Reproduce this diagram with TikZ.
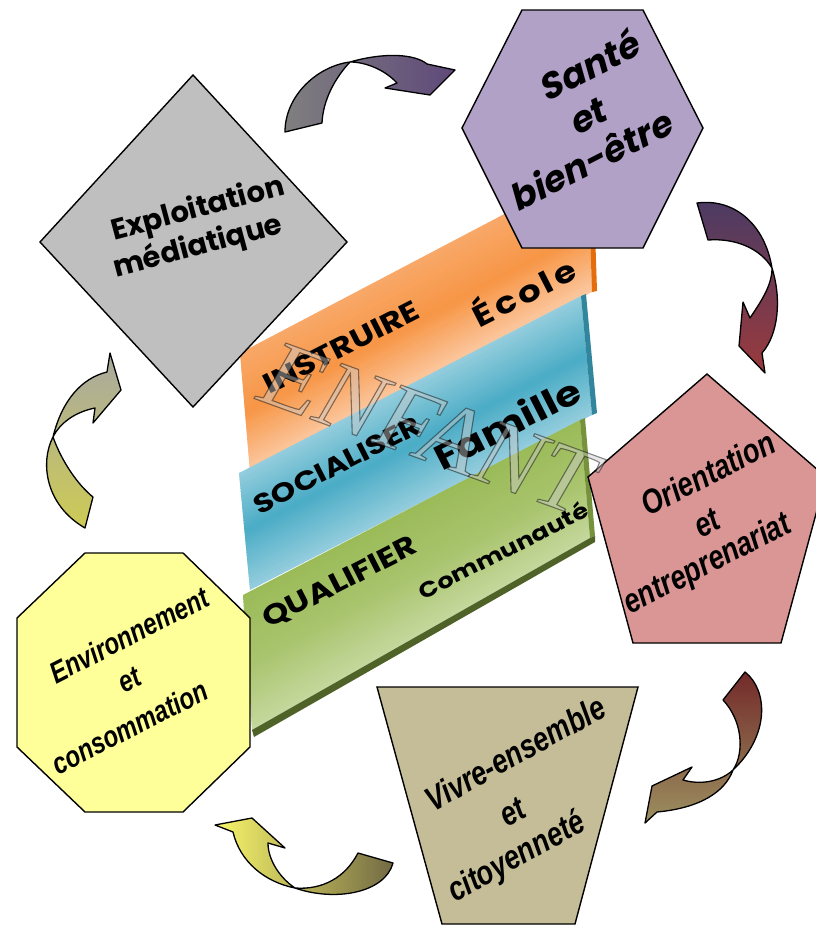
\documentclass[tikz,border=0pt]{standalone}
\usepackage{fontspec}
\usetikzlibrary{calc}
\newfontfamily\geofont{Poppins}
\newfontfamily\slantgeofont[FakeSlant=0.2]{Poppins}
\newfontfamily\widefont[FakeStretch=1.2]{Poppins}
\IfFontExistsTF{Liberation Sans Bold Italic}
    {\newfontfamily\narrowfont[FakeStretch=0.8]{Liberation Sans Bold Italic}}
    {\newfontfamily\narrowfont[FakeStretch=0.78, FakeSlant=0.2, FakeBold=4]{Liberation Sans}}
\newfontfamily\outlinefont{Liberation Serif}

\definecolor{diamondgray}{HTML}{BFBFBF}
\definecolor{hexlilac}{HTML}{B2A1C7}
\definecolor{pentarose}{HTML}{D99694}
\definecolor{trapsand}{HTML}{C4BD97}
\definecolor{octayellow}{HTML}{FFFF99}
\definecolor{orangeA}{HTML}{F8A868}
\definecolor{orangeB}{HTML}{F79646}
\definecolor{orangeC}{HTML}{FBC8A0}
\definecolor{orangeD}{HTML}{E46C0A}
\definecolor{blueA}{HTML}{93CDDD}
\definecolor{blueB}{HTML}{4BACC6}
\definecolor{blueD}{HTML}{31859C}
\definecolor{greenA}{HTML}{9BBB59}
\definecolor{greenB}{HTML}{A8C46C}
\definecolor{greenC}{HTML}{C4D79C}
\definecolor{greenD}{HTML}{76923C}
\definecolor{greenE}{HTML}{4F6228}
\definecolor{arrowgray}{HTML}{7F7F7F}
\definecolor{arrowpurple}{HTML}{5F497A}
\definecolor{arrowplum}{HTML}{4B3B64}
\definecolor{arrowred}{HTML}{9A3A3C}
\definecolor{arrowmaroon}{HTML}{732A2A}
\definecolor{arrowolive}{HTML}{9C9060}
\definecolor{arrowdark}{HTML}{736A44}
\definecolor{arrowyellow}{HTML}{F8F66A}
\definecolor{arrowlime}{HTML}{CDCB55}
\definecolor{arrowsilver}{HTML}{A9A9A0}

% bande en degrade : coins tl, tr, br, bl puis couleurs haut, milieu, bas
\newcommand{\bande}[7]{
    \foreach \i in {0,...,39}{
        \pgfmathsetmacro{\ta}{\i/40}
        \pgfmathsetmacro{\tb}{min(1,(\i+1.5)/40)}
        \pgfmathtruncatemacro{\p}{abs(\i-19.5)/19.5*100}
        \ifnum\i<20 \def\bout{#5}\else\def\bout{#7}\fi
        \path[fill=\bout!\p!#6] ($(#1)!\ta!(#4)$) -- ($(#2)!\ta!(#3)$) -- ($(#2)!\tb!(#3)$) -- ($(#1)!\tb!(#4)$) -- cycle;
    }
}

\begin{document}
\begin{tikzpicture}[x=1pt, y=-1pt,
        bloc/.style={draw=black, line width=1.4pt},
        fleche/.style={draw=black, line width=1.3pt, line join=round},
        cadretxt/.style={font=\geofont\bfseries\fontsize{29}{29}\selectfont, rotate=15, inner sep=0pt},
        santetxt/.style={font=\slantgeofont\bfseries\fontsize{36}{36}\selectfont, rotate=27, inner sep=0pt},
        etroittxt/.style={font=\narrowfont\fontsize{#1}{#1}\selectfont, inner sep=0pt},
        bandetxt/.style={font=\widefont\bfseries\fontsize{#1}{#1}\selectfont, rotate=27, inner sep=0pt}
    ]
        \useasboundingbox (0,0) rectangle (815,927);

        % bandes du centre
        \coordinate (otl) at (240,353); \coordinate (otr) at (588,170);
        \coordinate (obr) at (592,292); \coordinate (obl) at (250,472);
        \coordinate (btl) at (239,473); \coordinate (btr) at (581,296);
        \coordinate (bbr) at (592,415); \coordinate (bbl) at (250,590);
        \coordinate (gtl) at (243,595); \coordinate (gtr) at (580,420);
        \coordinate (gbr) at (590,538); \coordinate (gbl) at (252,730);

        \bande{otl}{otr}{obr}{obl}{orangeA}{orangeB}{orangeC}
        \fill[orangeD] (otr) -- (593,169) -- (597,291) -- (obr) -- cycle;

        \bande{btl}{btr}{bbr}{bbl}{blueA}{blueB}{blueA}
        \fill[blueD] (btr) -- (586,294) -- (597,413) -- (bbr) -- cycle;

        \bande{gtl}{gtr}{gbr}{gbl}{greenA}{greenB}{greenC}
        \fill[greenD] (gtr) -- (585,418) -- (595,536) -- (gbr) -- cycle;
        \fill[greenE] (gbl) -- (gbr) -- (595,536) -- (595,542) -- (254,737) -- cycle;

        % les six domaines
        \filldraw[bloc, fill=diamondgray] (193,75) -- (347,242) -- (193,407) -- (40,242) -- cycle;
        \filldraw[bloc, fill=hexlilac] (522,10) -- (643,10) -- (703,128) -- (643,248) -- (522,248) -- (462,128) -- cycle;
        \filldraw[bloc, fill=pentarose] (707,374) -- (826,477) -- (781,643) -- (633,643) -- (588,477) -- cycle;
        \filldraw[bloc, fill=trapsand] (377,687) -- (638,687) -- (575,924) -- (442,924) -- cycle;
        \filldraw[bloc, fill=octayellow] (85,553) -- (183,553) -- (250,618) -- (250,747) -- (183,812)
            -- (85,812) -- (17,747) -- (17,618) -- cycle;

        \draw
            (198,210) node[cadretxt](exploitation){Exploitation}
            (198,247) node[cadretxt](mediatique){médiatique}

            (588,65) node[santetxt](sante){Santé}
            (587,117) node[santetxt](et1){et}
            (590,160) node[santetxt](bienetre){bien-être}

            (708,473) node[etroittxt=34, rotate=27](orientation){Orientation}
            (707,523) node[etroittxt=34, rotate=27](et2){et}
            (708,565) node[etroittxt=34, rotate=27](entreprenariat){entreprenariat}

            (515,753) node[etroittxt=34, rotate=29](vivre){Vivre-ensemble}
            (513,812) node[etroittxt=34, rotate=29](et3){et}
            (517,858) node[etroittxt=34, rotate=29](citoyennete){citoyenneté}

            (129,635) node[etroittxt=30, rotate=27](environnement){Environnement}
            (130,680) node[etroittxt=30, rotate=27](et4){et}
            (130,727) node[etroittxt=30, rotate=27](consommation){consommation}
        ;

        % fleches courbes
        \shadedraw[fleche, left color=arrowgray, right color=arrowpurple]
            (285,132) .. controls (285,95) and (318,66) .. (350,62)
            .. controls (385,52) and (415,54) .. (427,64)
            -- (455,70) -- (430,95) -- (385,88) -- (397,83)
            .. controls (385,70) and (366,62) .. (350,62)
            .. controls (335,78) and (323,100) .. (322,123) -- cycle;

        \shadedraw[fleche, top color=arrowplum, bottom color=arrowred]
            (697,203) .. controls (735,198) and (765,225) .. (772,268)
            .. controls (782,300) and (778,335) .. (762,353)
            -- (765,373) -- (739,346) -- (743,302) -- (750,318)
            .. controls (762,300) and (772,285) .. (772,268)
            .. controls (760,248) and (735,238) .. (708,240) -- cycle;

        \shadedraw[fleche, top color=arrowmaroon, middle color=arrowmaroon, bottom color=arrowolive]
            (723,700) .. controls (742,720) and (745,752) .. (733,770)
            .. controls (720,782) and (700,785) .. (683,780)
            -- (692,767) -- (652,786) -- (645,823) -- (657,812)
            .. controls (700,808) and (725,792) .. (733,770)
            .. controls (770,735) and (768,690) .. (745,672) -- cycle;

        \shadedraw[fleche, left color=arrowyellow, right color=arrowdark]
            (358,853) .. controls (345,878) and (322,890) .. (295,888)
            .. controls (280,878) and (268,860) .. (268,843)
            -- (285,848) -- (252,818) -- (215,825) -- (233,832)
            .. controls (240,862) and (265,882) .. (295,888)
            .. controls (335,902) and (385,893) .. (393,863) -- cycle;

        \shadedraw[fleche, top color=arrowsilver, bottom color=arrowlime]
            (85,528) .. controls (45,505) and (40,462) .. (53,437)
            .. controls (62,400) and (82,378) .. (107,372)
            -- (110,353) -- (121,390) -- (93,423) -- (95,408)
            .. controls (75,412) and (60,423) .. (53,437)
            .. controls (62,462) and (78,485) .. (93,497) -- cycle;

        % textes des bandes
        \draw
            (341,347) node[bandetxt=28](instruire){INSTRUIRE}
            (523,290) node[bandetxt=30](ecole){\addfontfeature{LetterSpace=12}École}
            (337,465) node[bandetxt=26.5](socialiser){SOCIALISER}
            (507,423) node[bandetxt=35](famille){Famille}
            (340,583) node[bandetxt=28](qualifier){QUALIFIER}
            (503,550) node[bandetxt=21.5](communaute){Communauté}
        ;

        % mot en contour
        \node[rotate=-20, font=\outlinefont\itshape\fontsize{96}{96}\selectfont, text=black!20,
            text opacity=0.45, inner sep=0pt] (enfant) at (428,428)
            {\special{pdf:literal direct 0 0 0 RG 1.1 w 2 Tr}ENFANT\special{pdf:literal direct 0 Tr}};
    \end{tikzpicture}
\end{document}
